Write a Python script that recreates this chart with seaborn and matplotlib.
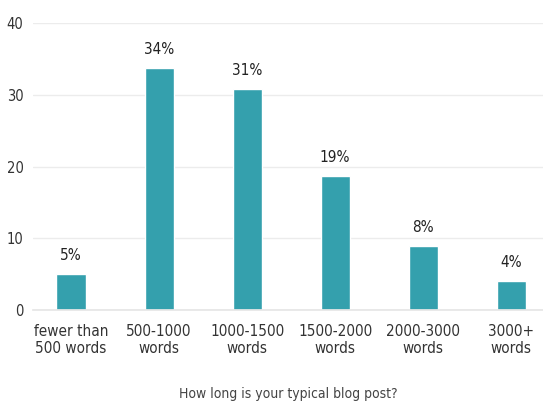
import matplotlib
matplotlib.use("Agg")
import matplotlib.pyplot as plt
import seaborn as sns
import pandas as pd

categories = ["fewer than\n500 words", "500-1000\nwords", "1000-1500\nwords",
              "1500-2000\nwords", "2000-3000\nwords", "3000+\nwords"]
values = [5.0, 33.7, 30.8, 18.7, 8.9, 4.0]
labels = ["5%", "34%", "31%", "19%", "8%", "4%"]
yticks = [0, 10, 20, 30, 40]

sns.set_theme(style="white")
plt.rcParams['font.family'] = ['DejaVu Sans']

df = pd.DataFrame({"cat": categories, "val": values})

fig = plt.figure(figsize=(5.43, 4.11), dpi=100)
ax = fig.add_axes([0.061, 0.2457, 0.939, 0.698])
sns.barplot(data=df, x="cat", y="val", color="#34a0ad", saturation=1, width=0.33, ax=ax)

ax.set_ylim(0, 40)
ax.set_xlim(-0.43, 5.36)
ax.set_yticks(yticks)
ax.yaxis.grid(True, color="#ececec", linewidth=1)
ax.set_axisbelow(True)
for s in ["top", "right", "left"]:
    ax.spines[s].set_visible(False)
ax.spines["bottom"].set_color("#e6e6e6")
ax.tick_params(axis="y", length=0, pad=7, labelsize=10.5, labelcolor="#333333")
ax.tick_params(axis="x", length=0, pad=10, labelsize=11, labelcolor="#333333")
for t in ax.get_xticklabels() + ax.get_yticklabels():
    t.set_fontstretch("condensed")
ax.set_ylabel("")
ax.set_xlabel("How long is your typical blog post?", fontsize=10, color="#444444",
              labelpad=22, fontstretch="condensed")

for i, (v, lab) in enumerate(zip(values, labels)):
    ax.annotate(lab, (i, v), xytext=(0, 8), textcoords="offset points",
                ha="center", va="bottom", fontsize=11, color="#222222",
                fontstretch="condensed")

fig.savefig("out.png", dpi=100)
